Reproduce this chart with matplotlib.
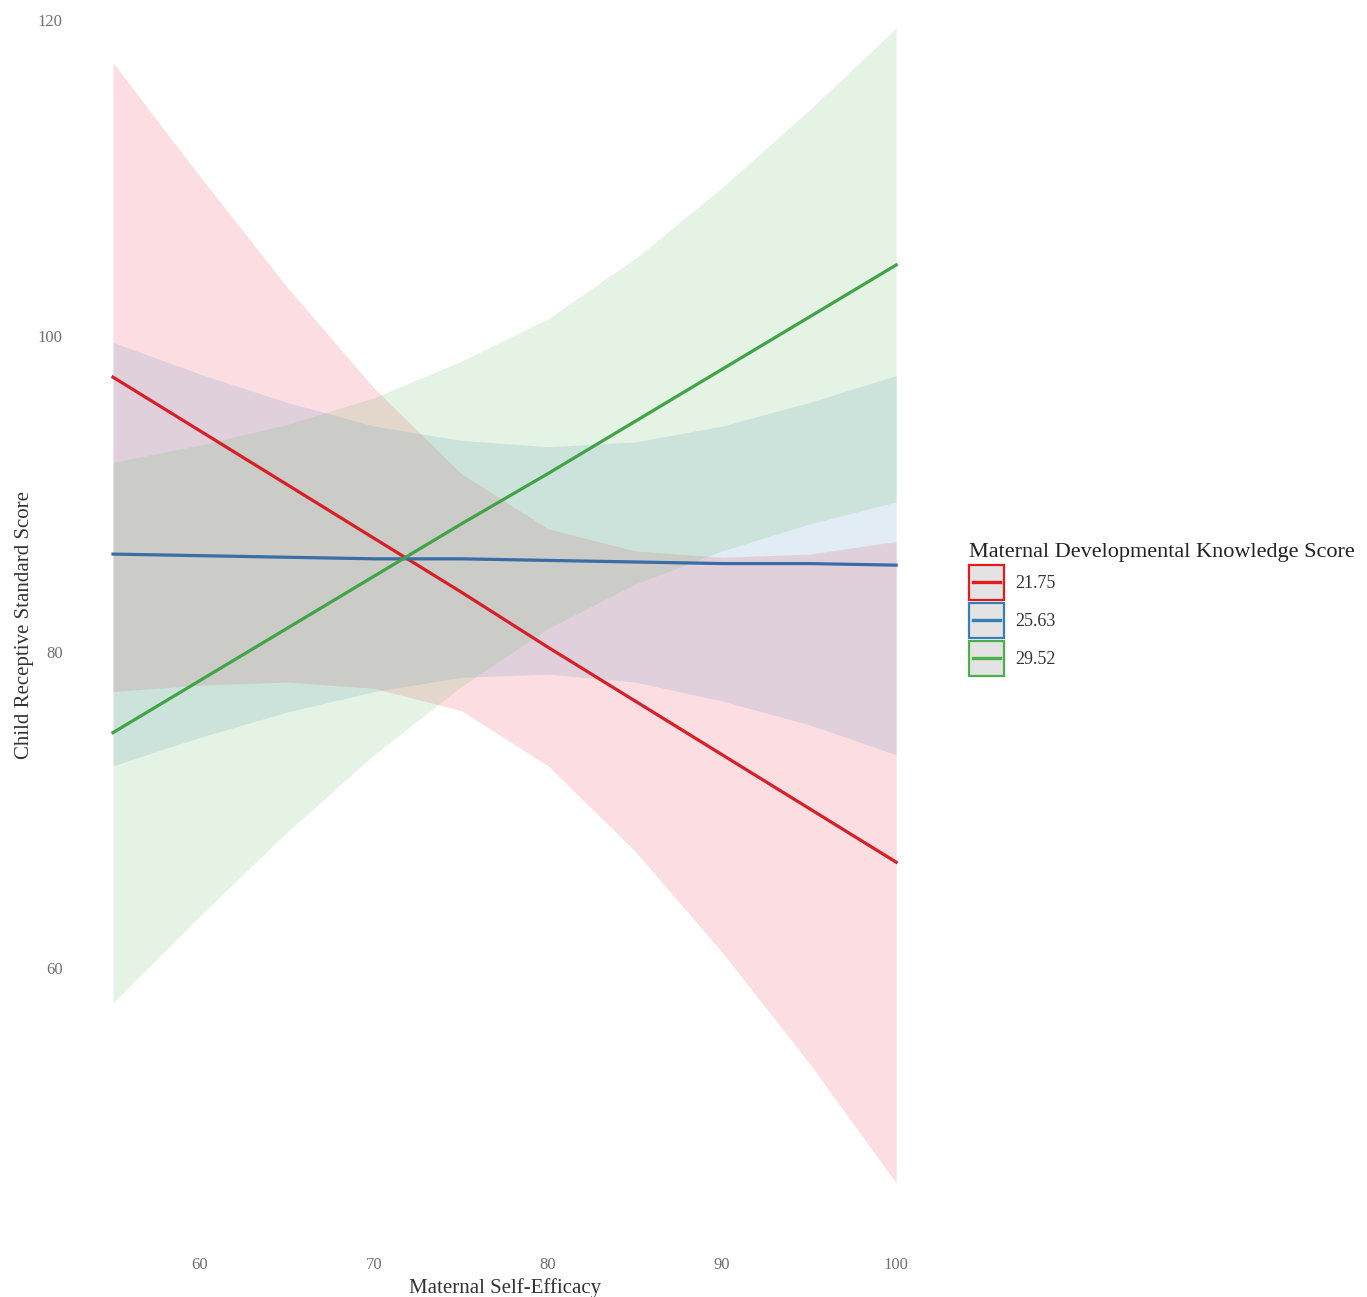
import matplotlib
matplotlib.use("Agg")
import matplotlib.pyplot as plt
from matplotlib.patches import Patch, Rectangle
from matplotlib.lines import Line2D
from matplotlib.legend_handler import HandlerPatch

plt.rcParams["font.family"] = ["Liberation Serif", "DejaVu Serif"]

# predicted values at each maternal self-efficacy level
self_efficacy = [55, 60, 65, 70, 75, 80, 85, 90, 95, 100]

groups = ["21.75", "25.63", "29.52"]
colors = ["#E41A1C", "#377EB8", "#4DAF4A"]
line_colors = ["#D61F27", "#3A6CA6", "#41A345"]
fill_colors = ["#EB1637", "#377EB8", "#4DAF4A"]

fit_2175 = [97.4, 94.0, 90.6, 87.2, 83.8, 80.3, 76.9, 73.5, 70.1, 66.7]
lo_2175 = [77.5, 77.9, 78.1, 77.7, 76.3, 72.8, 67.4, 61.0, 54.0, 46.4]
hi_2175 = [117.3, 110.1, 103.1, 96.7, 91.3, 87.8, 86.4, 86.0, 86.2, 87.0]

fit_2563 = [86.2, 86.1, 86.0, 85.9, 85.9, 85.8, 85.7, 85.6, 85.6, 85.5]
lo_2563 = [72.8, 74.6, 76.2, 77.5, 78.4, 78.6, 78.1, 76.9, 75.4, 73.5]
hi_2563 = [99.6, 97.6, 95.8, 94.3, 93.4, 93.0, 93.3, 94.3, 95.8, 97.5]

fit_2952 = [74.9, 78.2, 81.5, 84.8, 88.1, 91.3, 94.6, 97.9, 101.2, 104.5]
lo_2952 = [57.8, 63.3, 68.6, 73.5, 77.8, 81.5, 84.3, 86.4, 88.1, 89.5]
hi_2952 = [92.0, 93.1, 94.4, 96.1, 98.4, 101.1, 104.9, 109.4, 114.3, 119.5]

x_ticks = [60, 70, 80, 90, 100]
y_ticks = [60, 80, 100, 120]

fits = [fit_2175, fit_2563, fit_2952]
lows = [lo_2175, lo_2563, lo_2952]
highs = [hi_2175, hi_2563, hi_2952]


class BoxLine(HandlerPatch):
    # grey key box with a coloured border and a centred line, like ggplot
    def create_artists(self, legend, orig, xd, yd, w, h, fs, trans):
        box = Rectangle((-xd, -yd), w, h, facecolor=orig.get_facecolor(),
                        edgecolor=orig.get_edgecolor(), linewidth=orig.get_linewidth(),
                        transform=trans)
        cy = -yd + h / 2
        ln = Line2D([-xd + 0.12 * w, -xd + 0.88 * w], [cy, cy], color=orig.get_edgecolor(),
                    linewidth=2.4, transform=trans)
        return [box, ln]


fig = plt.figure(figsize=(13.67, 12.97), dpi=100)
ax = fig.add_axes([0.0549, 0.0401, 0.6292, 0.9560])

for lo, hi, c in zip(lows, highs, fill_colors):
    ax.fill_between(self_efficacy, lo, hi, color=c, alpha=0.14, linewidth=0)
for fit, c in zip(fits, line_colors):
    ax.plot(self_efficacy, fit, color=c, linewidth=2.3)

ax.set_xlim(52.82, 102.24)
ax.set_ylim(42.47, 120.95)
ax.set_xticks(x_ticks)
ax.set_yticks(y_ticks)
ax.tick_params(length=0, labelsize=12, labelcolor="#707070", pad=9)
for s in ax.spines.values():
    s.set_visible(False)

ax.set_xlabel("Maternal Self-Efficacy", fontsize=15, color="#333333", labelpad=3)
ax.set_ylabel("Child Receptive Standard Score", fontsize=15, color="#333333", labelpad=3)

handles = [Patch(facecolor="#e3e3e3", edgecolor=c, linewidth=1.6) for c in colors]

leg = fig.legend(handles, groups, loc="upper left", bbox_to_anchor=(956 / 1367, 1 - 530 / 1297),
                 frameon=False, fontsize=13, title="Maternal Developmental Knowledge Score",
                 title_fontsize=16, handlelength=1.95, handleheight=2.55, labelspacing=0.2,
                 handletextpad=0.65, borderpad=0.2, alignment="left",
                 handler_map={Patch: BoxLine()})
leg.get_title().set_color("#222222")
for t in leg.get_texts():
    t.set_color("#333333")

fig.savefig("out.png", dpi=100, facecolor="white")
